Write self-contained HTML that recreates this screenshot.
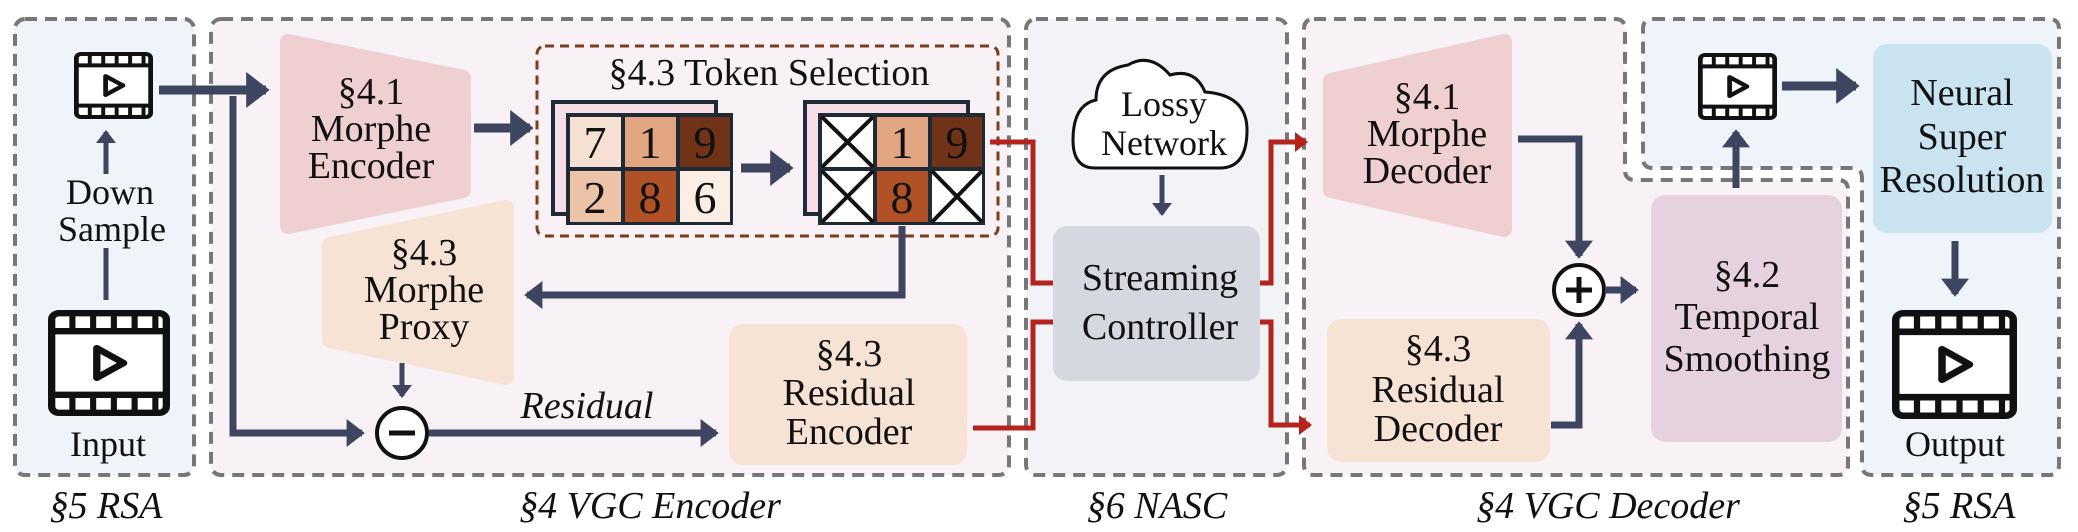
<!DOCTYPE html>
<html><head><meta charset="utf-8"><style>
html,body{margin:0;padding:0;background:#fff}
svg{display:block;font-family:"Liberation Serif","DejaVu Serif",serif}
svg text{font-family:"Liberation Serif","DejaVu Serif",serif;fill:#111}
</style></head><body>
<svg width="2078" height="532" viewBox="0 0 2078 532" xmlns="http://www.w3.org/2000/svg" font-family="Liberation Serif, serif">
<defs>
<marker id="ah" markerWidth="4" markerHeight="4" refX="2.2" refY="2" orient="auto" markerUnits="strokeWidth"><path d="M0,0 L2.6,2 L0,4 Z" fill="#3d4560"/></marker>
<marker id="ar" markerWidth="4" markerHeight="4" refX="2.2" refY="2" orient="auto" markerUnits="strokeWidth"><path d="M0,0 L2.6,2 L0,4 Z" fill="#b5231c"/></marker>
<g id="vid">
<rect x="3" y="3" width="94" height="94" rx="6" fill="#fff" stroke="#111" stroke-width="6"/>
<line x1="3" y1="20" x2="97" y2="20" stroke="#111" stroke-width="6"/>
<line x1="3" y1="80" x2="97" y2="80" stroke="#111" stroke-width="6"/>
<path d="M20,3V20M37,3V20M54,3V20M71,3V20M88,3V20M20,80V97M37,80V97M54,80V97M71,80V97M88,80V97" stroke="#111" stroke-width="5"/>
<path d="M40,36 L62,50 L40,64 Z" fill="none" stroke="#111" stroke-width="6" stroke-linejoin="round"/>
</g>
</defs>

<rect x="15" y="19" width="179" height="456" rx="10" fill="#eef4f9" stroke="#777" stroke-width="4" stroke-dasharray="12,8"/>
<rect x="211" y="19" width="798" height="456" rx="10" fill="#f8f2f6" stroke="#777" stroke-width="4" stroke-dasharray="12,8"/>
<rect x="1026" y="19" width="261" height="456" rx="10" fill="#f2f3f6" stroke="#777" stroke-width="4" stroke-dasharray="12,8"/>
<path d="M1314,19 H1615 Q1625,19 1625,29 V170 Q1625,180 1635,180 H1838 Q1848,180 1848,190 V465 Q1848,475 1838,475 H1314 Q1304,475 1304,465 V29 Q1304,19 1314,19 Z" fill="#f8f2f6" stroke="#777" stroke-width="4" stroke-dasharray="12,8"/>
<path d="M1653,19 H2049 Q2059,19 2059,29 V465 Q2059,475 2049,475 H1872 Q1862,475 1862,465 V178 Q1862,168 1852,168 H1653 Q1643,168 1643,158 V29 Q1643,19 1653,19 Z" fill="#eef4f9" stroke="#777" stroke-width="4" stroke-dasharray="12,8"/>

<g font-style="italic" font-size="38" text-anchor="middle" font-family="Liberation Serif, serif">
<text x="106" y="518">§5 RSA</text>
<text x="650" y="518">§4 VGC Encoder</text>
<text x="1157" y="518">§6 NASC</text>
<text x="1608" y="518">§4 VGC Decoder</text>
<text x="1959" y="518">§5 RSA</text>
</g>

<use href="#vid" transform="translate(74,52) scale(0.79,0.67)"/>
<use href="#vid" transform="translate(48,310) scale(1.22,1.06)"/>
<line x1="106" y1="300" x2="106" y2="248" stroke="#3d4560" stroke-width="5"/>
<line x1="106" y1="174" x2="106" y2="132" stroke="#3d4560" stroke-width="5" marker-end="url(#ah)"/>
<g font-size="36" text-anchor="middle" font-family="Liberation Serif, serif">
<text x="110" y="204">Down</text>
<text x="112" y="241">Sample</text>
<text x="108" y="456">Input</text>
</g>

<line x1="159" y1="90" x2="266" y2="90" stroke="#3d4560" stroke-width="9" marker-end="url(#ah)"/>
<polyline points="233,96 233,433 362,433" fill="none" stroke="#3d4560" stroke-width="7" marker-end="url(#ah)"/>

<path d="M288,42 L463,78 L463,190 L288,226 Z" fill="#f0cfd0" stroke="#f0cfd0" stroke-width="16" stroke-linejoin="round"/>
<g font-size="38" text-anchor="middle" font-family="Liberation Serif, serif">
<text x="371" y="104">§4.1</text>
<text x="371" y="141">Morphe</text>
<text x="371" y="178">Encoder</text>
</g>
<line x1="474" y1="128" x2="530" y2="128" stroke="#3d4560" stroke-width="9" marker-end="url(#ah)"/>

<rect x="537" y="46" width="461" height="190" rx="8" fill="none" stroke="#7a3e1d" stroke-width="3" stroke-dasharray="9,6"/>
<text x="769" y="85" font-size="38" text-anchor="middle" font-family="Liberation Serif, serif">§4.3 Token Selection</text>
<rect x="553" y="102" width="163" height="112" fill="#f7dde8" stroke="#1e2a36" stroke-width="4"/>
<rect x="566" y="113" width="167" height="112" fill="#1e2a36"/>
<rect x="570" y="117" width="51" height="50" fill="#f5e0d3"/>
<rect x="625" y="117" width="51" height="50" fill="#e3a682"/>
<rect x="680" y="117" width="50" height="50" fill="#703318"/>
<rect x="570" y="171" width="51" height="51" fill="#ecc3a6"/>
<rect x="625" y="171" width="51" height="51" fill="#b05226"/>
<rect x="680" y="171" width="50" height="51" fill="#fbefe5"/>
<g font-size="46" text-anchor="middle" font-family="Liberation Serif, serif">
<text x="595" y="158">7</text><text x="650" y="158">1</text><text x="705" y="158">9</text>
<text x="595" y="213">2</text><text x="650" y="213">8</text><text x="705" y="213">6</text>
</g>
<line x1="741" y1="168" x2="790" y2="168" stroke="#3d4560" stroke-width="9" marker-end="url(#ah)"/>
<rect x="805" y="102" width="163" height="112" fill="#f7dde8" stroke="#1e2a36" stroke-width="4"/>
<rect x="818" y="113" width="167" height="112" fill="#1e2a36"/>
<rect x="822" y="117" width="51" height="50" fill="#fff"/>
<rect x="877" y="117" width="51" height="50" fill="#e3a682"/>
<rect x="932" y="117" width="50" height="50" fill="#703318"/>
<rect x="822" y="171" width="51" height="51" fill="#fff"/>
<rect x="877" y="171" width="51" height="51" fill="#b05226"/>
<rect x="932" y="171" width="50" height="51" fill="#fff"/>
<path d="M822,117 L873,167 M873,117 L822,167 M822,171 L873,222 M873,171 L822,222 M932,171 L982,222 M982,171 L932,222" stroke="#111" stroke-width="4"/>
<g font-size="46" text-anchor="middle" font-family="Liberation Serif, serif">
<text x="902" y="158">1</text><text x="957" y="158">9</text><text x="902" y="213">8</text>
</g>
<polyline points="902,226 902,295 527,295" fill="none" stroke="#3d4560" stroke-width="7" marker-end="url(#ah)"/>

<path d="M330,245 L506,208 L506,377 L330,340 Z" fill="#f7e3d6" stroke="#f7e3d6" stroke-width="16" stroke-linejoin="round"/>
<g font-size="38" text-anchor="middle" font-family="Liberation Serif, serif">
<text x="424" y="265">§4.3</text>
<text x="424" y="302">Morphe</text>
<text x="424" y="339">Proxy</text>
</g>
<line x1="402" y1="363" x2="402" y2="396" stroke="#3d4560" stroke-width="5" marker-end="url(#ah)"/>
<circle cx="402" cy="433" r="25" fill="#fff" stroke="#111" stroke-width="4"/>
<line x1="389" y1="433" x2="415" y2="433" stroke="#111" stroke-width="5"/>
<line x1="429" y1="433" x2="716" y2="433" stroke="#3d4560" stroke-width="7" marker-end="url(#ah)"/>
<text x="587" y="418" font-size="38" font-style="italic" text-anchor="middle" font-family="Liberation Serif, serif">Residual</text>

<rect x="729" y="324" width="238" height="141" rx="14" fill="#f7e3d6"/>
<g font-size="38" text-anchor="middle" font-family="Liberation Serif, serif">
<text x="849" y="366">§4.3</text>
<text x="849" y="405">Residual</text>
<text x="849" y="444">Encoder</text>
</g>

<polyline points="990,142 1033,142 1033,283 1053,283" fill="none" stroke="#b5231c" stroke-width="5"/>
<polyline points="973,428 1033,428 1033,322 1053,322" fill="none" stroke="#b5231c" stroke-width="5"/>
<polyline points="1260,283 1271,283 1271,142 1306,142" fill="none" stroke="#b5231c" stroke-width="5" marker-end="url(#ar)"/>
<polyline points="1260,322 1271,322 1271,425 1310,425" fill="none" stroke="#b5231c" stroke-width="5" marker-end="url(#ar)"/>

<path d="M1095,168 Q1073,168 1073,140 Q1073,105 1096,100 Q1096,70 1128,65 Q1150,52 1170,75 Q1195,68 1205,92 Q1247,95 1247,130 Q1247,168 1220,168 Z" fill="#fff" stroke="#111" stroke-width="3"/>
<g font-size="36" text-anchor="middle" font-family="Liberation Serif, serif">
<text x="1164" y="116">Lossy</text>
<text x="1164" y="155">Network</text>
</g>
<line x1="1162" y1="175" x2="1162" y2="214" stroke="#3d4560" stroke-width="5" marker-end="url(#ah)"/>
<rect x="1053" y="226" width="207" height="155" rx="14" fill="#d5d8e0"/>
<g font-size="38" text-anchor="middle" font-family="Liberation Serif, serif">
<text x="1160" y="290">Streaming</text>
<text x="1160" y="339">Controller</text>
</g>

<path d="M1331,81 L1504,42 L1504,229 L1331,190 Z" fill="#f0cfd0" stroke="#f0cfd0" stroke-width="16" stroke-linejoin="round"/>
<g font-size="38" text-anchor="middle" font-family="Liberation Serif, serif">
<text x="1427" y="109">§4.1</text>
<text x="1427" y="146">Morphe</text>
<text x="1427" y="183">Decoder</text>
</g>
<polyline points="1518,139 1579,139 1579,256" fill="none" stroke="#3d4560" stroke-width="7" marker-end="url(#ah)"/>
<rect x="1327" y="319" width="223" height="143" rx="14" fill="#f7e3d6"/>
<g font-size="38" text-anchor="middle" font-family="Liberation Serif, serif">
<text x="1438" y="361">§4.3</text>
<text x="1438" y="402">Residual</text>
<text x="1438" y="441">Decoder</text>
</g>
<polyline points="1551,425 1579,425 1579,324" fill="none" stroke="#3d4560" stroke-width="7" marker-end="url(#ah)"/>
<circle cx="1579" cy="290" r="25" fill="#fff" stroke="#111" stroke-width="4"/>
<path d="M1566,290 H1592 M1579,277 V303" stroke="#111" stroke-width="5"/>
<line x1="1605" y1="290" x2="1636" y2="290" stroke="#3d4560" stroke-width="7" marker-end="url(#ah)"/>
<rect x="1651" y="195" width="191" height="247" rx="14" fill="#e6d1de"/>
<g font-size="38" text-anchor="middle" font-family="Liberation Serif, serif">
<text x="1747" y="287">§4.2</text>
<text x="1747" y="329">Temporal</text>
<text x="1747" y="371">Smoothing</text>
</g>
<line x1="1736" y1="188" x2="1736" y2="132" stroke="#3d4560" stroke-width="7" marker-end="url(#ah)"/>

<use href="#vid" transform="translate(1698,53) scale(0.79,0.67)"/>
<line x1="1782" y1="86" x2="1856" y2="86" stroke="#3d4560" stroke-width="9" marker-end="url(#ah)"/>
<rect x="1873" y="44" width="179" height="189" rx="14" fill="#c9e3f0"/>
<g font-size="38" text-anchor="middle" font-family="Liberation Serif, serif">
<text x="1962" y="105">Neural</text>
<text x="1962" y="149">Super</text>
<text x="1962" y="192">Resolution</text>
</g>
<line x1="1955" y1="241" x2="1955" y2="294" stroke="#3d4560" stroke-width="7" marker-end="url(#ah)"/>
<use href="#vid" transform="translate(1892,310) scale(1.25,1.09)"/>
<text x="1955" y="456" font-size="36" text-anchor="middle" font-family="Liberation Serif, serif">Output</text>
</svg>
</body></html>
